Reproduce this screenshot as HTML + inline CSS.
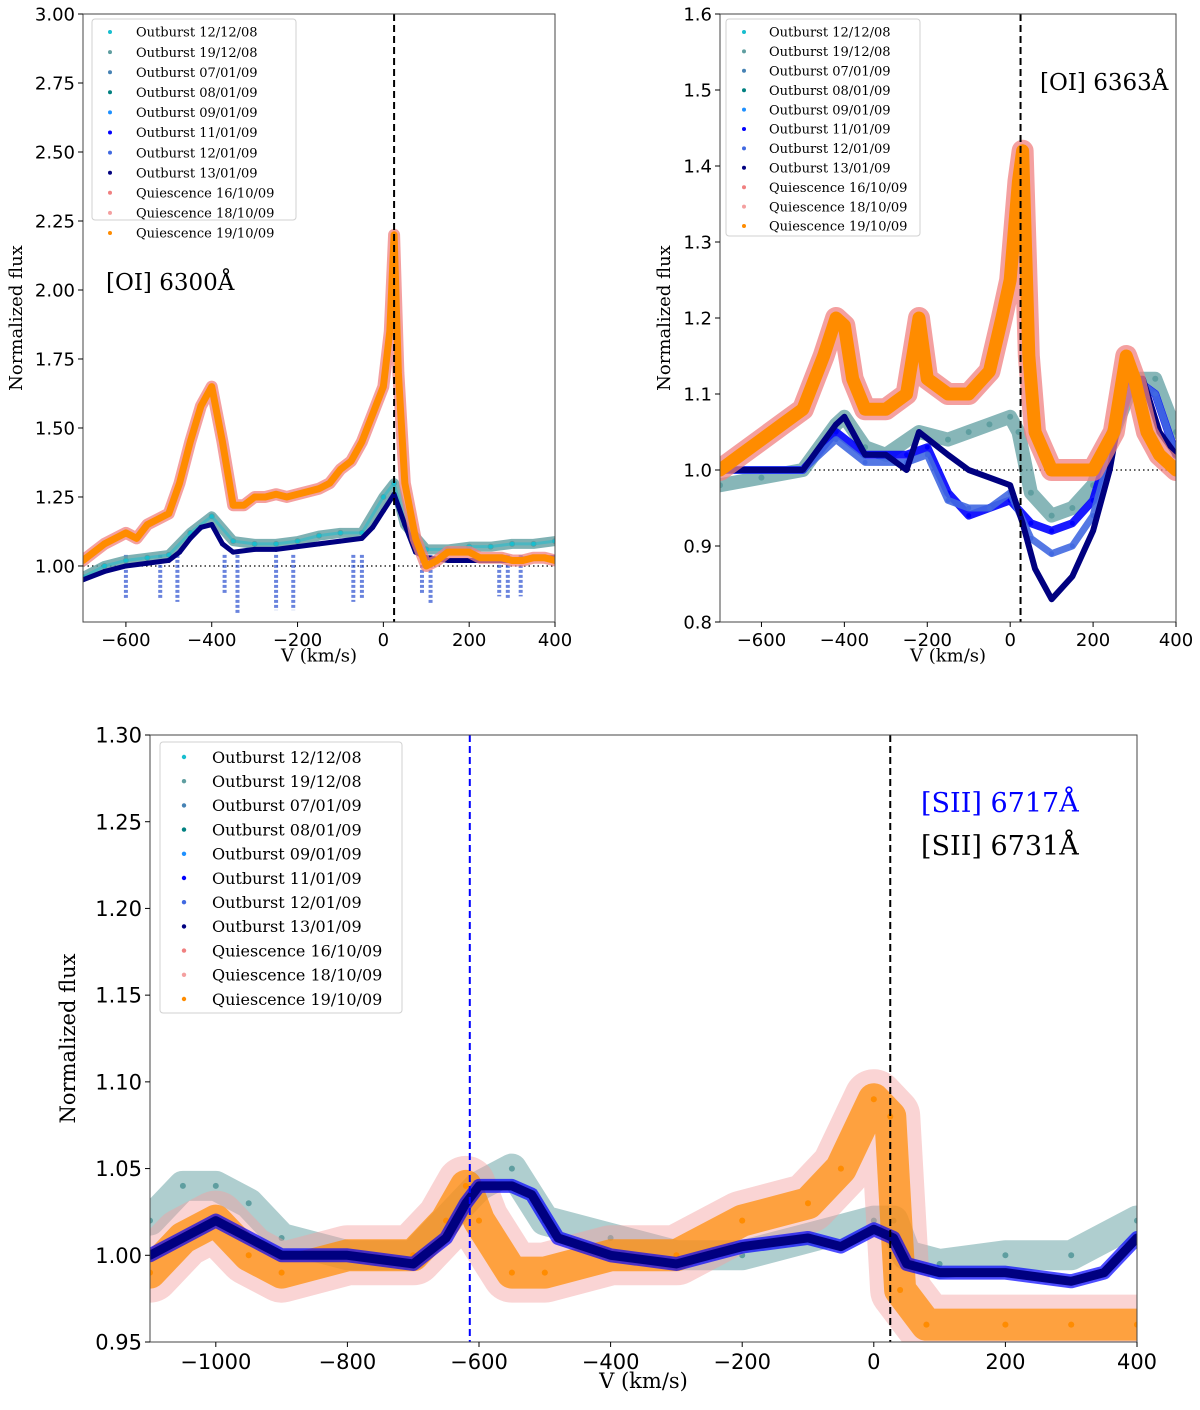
<!DOCTYPE html>
<html><head><meta charset="utf-8">
<style>
html,body{margin:0;padding:0;background:#fff;}
svg{display:block;}
text{font-family:"DejaVu Serif","Liberation Serif",serif;}
.tk{font-family:"DejaVu Sans","Liberation Sans",sans-serif;}
</style></head>
<body>
<svg id="fig" width="1200" height="1410" viewBox="0 0 1200 1410" xmlns="http://www.w3.org/2000/svg"></svg>
<script>
// ---------- Panel 1: [OI] 6300 ----------
const p1QuiesV = [-700,-675,-650,-625,-600,-575,-550,-525,-500,-475,-450,-425,-400,-375,-350,-325,-300,-275,-250,-225,-200,-175,-150,-125,-100,-75,-50,-25,0,15,25,35,50,75,100,125,150,175,200,225,250,275,300,325,350,375,400];
const p1QuiesF = [1.02,1.05,1.08,1.10,1.12,1.10,1.15,1.17,1.19,1.30,1.45,1.58,1.65,1.45,1.22,1.22,1.25,1.25,1.26,1.25,1.26,1.27,1.28,1.30,1.35,1.38,1.45,1.55,1.65,1.85,2.20,1.70,1.30,1.10,1.00,1.02,1.05,1.05,1.05,1.03,1.03,1.03,1.02,1.02,1.03,1.03,1.02];
const p1NavyV = [-700,-650,-600,-550,-500,-475,-450,-425,-400,-375,-350,-300,-250,-200,-150,-100,-50,-25,0,25,50,75,100,150,200,250,300,350,400];
const p1NavyF = [0.95,0.98,1.00,1.01,1.02,1.05,1.10,1.14,1.15,1.08,1.05,1.06,1.06,1.07,1.08,1.09,1.10,1.14,1.20,1.26,1.15,1.05,1.03,1.02,1.02,1.02,1.02,1.03,1.03];
const p1TealV = [-700,-650,-600,-550,-500,-450,-400,-350,-300,-250,-200,-150,-100,-50,0,25,50,100,150,200,250,300,350,400];
const p1TealF = [0.96,1.00,1.02,1.03,1.04,1.12,1.18,1.09,1.08,1.08,1.09,1.11,1.12,1.12,1.25,1.30,1.15,1.06,1.06,1.07,1.07,1.08,1.08,1.09];
const p1DipV = [-600,-520,-480,-370,-340,-250,-210,-70,-50,90,110,270,290,320];
const p1DipF = [0.88,0.88,0.87,0.90,0.83,0.84,0.84,0.87,0.88,0.90,0.86,0.89,0.88,0.89];
const p1Yticks = [1.00,1.25,1.50,1.75,2.00,2.25,2.50,2.75,3.00];
const p1Xticks = [-600,-400,-200,0,200,400];

// ---------- Panel 2: [OI] 6363 ----------
const p2QuiesV = [-700,-650,-600,-550,-500,-450,-420,-400,-380,-350,-300,-250,-220,-200,-150,-100,-50,-20,0,20,30,45,60,100,150,200,250,280,300,330,360,400];
const p2QuiesF = [1.00,1.02,1.04,1.06,1.08,1.15,1.20,1.19,1.12,1.08,1.08,1.10,1.20,1.12,1.10,1.10,1.13,1.20,1.25,1.38,1.42,1.15,1.05,1.00,1.00,1.00,1.05,1.15,1.12,1.05,1.02,1.00];
const p2TealV = [-700,-600,-500,-420,-400,-350,-300,-220,-150,-100,-50,0,20,50,100,150,200,250,300,350,400];
const p2TealF = [0.98,0.99,1.00,1.06,1.07,1.03,1.02,1.05,1.04,1.05,1.06,1.07,1.05,0.97,0.94,0.95,0.98,1.05,1.12,1.12,1.05];
const p2NavyV = [-700,-600,-500,-420,-400,-350,-300,-250,-220,-150,-100,-50,0,30,60,100,150,200,240,280,320,360,400];
const p2NavyF = [1.00,1.00,1.00,1.06,1.07,1.02,1.02,1.00,1.05,1.02,1.00,0.99,0.98,0.93,0.87,0.83,0.86,0.92,1.00,1.12,1.12,1.05,1.02];
const p2BlueV = [-700,-500,-420,-350,-250,-200,-150,-100,-50,0,50,100,150,200,250,300,350,400];
const p2BlueF = [1.00,1.00,1.05,1.02,1.02,1.03,0.97,0.94,0.95,0.96,0.93,0.92,0.93,0.96,1.05,1.12,1.10,1.02];
const p2LBlueV = [-700,-500,-420,-350,-250,-200,-150,-100,-50,0,50,100,150,200,250,300,350,400];
const p2LBlueF = [1.00,1.00,1.04,1.01,1.01,1.02,0.96,0.95,0.95,0.97,0.91,0.89,0.90,0.94,1.04,1.12,1.10,1.02];
const p2Yticks = [0.8,0.9,1.0,1.1,1.2,1.3,1.4,1.5,1.6];
const p2Xticks = [-600,-400,-200,0,200,400];

// ---------- Panel 3: [SII] ----------
const p3QuiesV = [-1100,-1050,-1000,-950,-900,-800,-700,-650,-620,-600,-550,-500,-400,-300,-200,-100,-50,0,25,40,80,200,300,400];
const p3QuiesF = [0.99,1.01,1.02,1.00,0.99,1.00,1.00,1.02,1.04,1.02,0.99,0.99,1.00,1.00,1.02,1.03,1.05,1.09,1.08,0.98,0.96,0.96,0.96,0.96];
const p3NavyV = [-1100,-1050,-1000,-950,-900,-800,-700,-650,-620,-600,-550,-520,-480,-400,-300,-250,-200,-100,-50,0,30,50,100,200,300,350,400];
const p3NavyF = [1.00,1.01,1.02,1.01,1.00,1.00,0.995,1.01,1.03,1.04,1.04,1.035,1.01,1.00,0.995,1.00,1.005,1.01,1.005,1.015,1.01,0.995,0.99,0.99,0.985,0.99,1.01];
const p3TealV = [-1100,-1050,-1000,-950,-900,-800,-700,-600,-550,-500,-400,-300,-200,-100,0,30,50,100,200,300,400];
const p3TealF = [1.02,1.04,1.04,1.03,1.01,1.00,1.00,1.04,1.05,1.02,1.01,1.00,1.00,1.01,1.02,1.02,1.00,0.995,1.00,1.00,1.02];
const p3Yticks = [0.95,1.00,1.05,1.10,1.15,1.20,1.25,1.30];
const p3Xticks = [-1000,-800,-600,-400,-200,0,200,400];

const legendLabels = ["Outburst 12/12/08","Outburst 19/12/08","Outburst 07/01/09","Outburst 08/01/09","Outburst 09/01/09","Outburst 11/01/09","Outburst 12/01/09","Outburst 13/01/09","Quiescence 16/10/09","Quiescence 18/10/09","Quiescence 19/10/09"];
const legendColors = ["#17becf","#5f9ea0","#4682b4","#008080","#1e90ff","#0000ff","#4169e1","#000080","#f08080","#f4a0a0","#ff8c00"];

const NS = "http://www.w3.org/2000/svg";
const svg = document.getElementById("fig");
function el(tag, attrs, parent){
  const e = document.createElementNS(NS, tag);
  for (const k in attrs) e.setAttribute(k, attrs[k]);
  (parent||svg).appendChild(e);
  return e;
}

function panel(cfg){
  const g = el("g", {});
  
  
  const X = v => cfg.x0 + (v - cfg.xmin) / (cfg.xmax - cfg.xmin) * (cfg.x1 - cfg.x0);
  const Y = f => cfg.y1 - (f - cfg.ymin) / (cfg.ymax - cfg.ymin) * (cfg.y1 - cfg.y0);
  const clipId = cfg.name + "-clip";
  const defs = el("defs", {}, g);
  const cp = el("clipPath", {id: clipId}, defs);
  el("rect", {x: cfg.x0, y: cfg.y0, width: cfg.x1 - cfg.x0, height: cfg.y1 - cfg.y0}, cp);
  const plot = el("g", {"clip-path": "url(#" + clipId + ")"}, g);
  
  

  if (cfg.dotted){
    const dl = el("line", {x1: cfg.x0, x2: cfg.x1, y1: Y(1), y2: Y(1), stroke: "#000", "stroke-width": 1.2, "stroke-dasharray": "1.5,3"}, plot);
    
    
  }
  if (cfg.dips){
    cfg.dips.v.forEach((v, i) => {
      const d = el("line", {x1: X(v), x2: X(v), y1: Y(1.04), y2: Y(cfg.dips.f[i]), stroke: "#2b4fd0", "stroke-width": 4, "stroke-dasharray": "3,2", opacity: 0.7}, plot);
      
      
    });
  }
  cfg.series.forEach(s => {
    const sg = el("g", {}, plot);
    
    
    const pts = s.v.map((v, i) => X(v) + "," + Y(s.f[i])).join(" ");
    el("polyline", {points: pts, fill: "none", stroke: s.color, "stroke-width": s.w, "stroke-linejoin": "round", "stroke-linecap": "round", opacity: s.op}, sg);
    s.v.forEach((v, i) => {
      const c = el("circle", {cx: X(v), cy: Y(s.f[i]), r: s.r, fill: s.color}, sg);
      
      
    });
  });
  cfg.vlines.forEach(vl => {
    const l = el("line", {x1: X(vl.v), x2: X(vl.v), y1: cfg.y0, y2: cfg.y1, stroke: vl.color, "stroke-width": 2, "stroke-dasharray": "7,4"}, plot);
    
    
  });
  const fr = el("rect", {x: cfg.x0, y: cfg.y0, width: cfg.x1 - cfg.x0, height: cfg.y1 - cfg.y0, fill: "none", stroke: "#444", "stroke-width": 1}, g);
  
  
  cfg.yticks.forEach(t => {
    el("line", {x1: cfg.x0 - 5, x2: cfg.x0, y1: Y(t), y2: Y(t), stroke: "#000"}, g);
    const tx = el("text", {x: cfg.x0 - 8, y: Y(t) + cfg.fs * 0.36, "text-anchor": "end", "font-size": cfg.fs, class: "tk"}, g);
    tx.textContent = t.toFixed(cfg.ydec);
    
    
  });
  cfg.xticks.forEach(t => {
    el("line", {x1: X(t), x2: X(t), y1: cfg.y1, y2: cfg.y1 + 5, stroke: "#000"}, g);
    const tx = el("text", {x: X(t), y: cfg.y1 + 6 + cfg.fs, "text-anchor": "middle", "font-size": cfg.fs, class: "tk"}, g);
    tx.textContent = (t < 0 ? "\u2212" + (-t) : String(t));
    
    
  });
  const xt = el("text", {x: (cfg.x0 + cfg.x1) / 2, y: cfg.y1 + cfg.fs * 2.2, "text-anchor": "middle", "font-size": cfg.fs}, g);
  xt.textContent = "V (km/s)";
  
  
  const yt = el("text", {x: 0, y: 0, "text-anchor": "middle", "font-size": cfg.fs, transform: "translate(" + cfg.ytx + "," + (cfg.y0 + cfg.y1) / 2 + ") rotate(-90)"}, g);
  yt.textContent = "Normalized flux";
  
  
  const L = cfg.legend;
  const lg = el("g", {}, g);
  
  
  el("rect", {x: L.x, y: L.y, width: L.w, height: L.h, rx: 3, fill: "#fff", stroke: "#ccc", opacity: 0.9}, lg);
  legendLabels.forEach((lab, i) => {
    const ey = L.y + L.first + i * L.step;
    const eg = el("g", {}, lg);
    
    
    el("circle", {cx: L.x + L.mx, cy: ey, r: L.mr, fill: legendColors[i]}, eg);
    const t = el("text", {x: L.x + L.tx, y: ey + L.fs * 0.36, "font-size": L.fs}, eg);
    t.textContent = lab;
  });
  cfg.notes.forEach(n => {
    const t = el("text", {x: n.x, y: n.y, "font-size": n.fs, fill: n.color}, g);
    t.textContent = n.text;
    
    
  });
}

panel({
  name: "panel-oi-6300", x0: 83, x1: 555, y0: 14, y1: 622, xmin: -700, xmax: 400, ymin: 0.797, ymax: 3.0,
  fs: 18, ydec: 2, ytx: 22, dotted: true,
  yticks: p1Yticks, xticks: p1Xticks,
  series: [
    {name: "series-outburst-19-12-08", v: p1TealV, f: p1TealF, color: "#5f9ea0", w: 10, op: 0.8, r: 3},
    {name: "series-outburst-12-12-08", v: p1TealV, f: p1TealF, color: "#17becf", w: 3, op: 0.5, r: 2},
    {name: "series-outburst-13-01-09", v: p1NavyV, f: p1NavyF, color: "#000080", w: 5, op: 1, r: 2.5},
    {name: "series-quiescence-16-10-09", v: p1QuiesV, f: p1QuiesF, color: "#f08080", w: 12, op: 0.75, r: 3},
    {name: "series-quiescence-19-10-09", v: p1QuiesV, f: p1QuiesF, color: "#ff8c00", w: 7, op: 1, r: 3}
  ],
  dips: {v: p1DipV, f: p1DipF},
  vlines: [{v: 25, color: "#000", name: "line-center-6300"}],
  legend: {x: 92, y: 19, w: 204, h: 201, first: 13, step: 20.1, mx: 18, mr: 2, tx: 44, fs: 13},
  notes: [{x: 106, y: 290, fs: 23, color: "#000", text: "[OI] 6300\u00C5", name: "line-label-oi-6300"}]
});

panel({
  name: "panel-oi-6363", x0: 720, x1: 1176, y0: 14, y1: 622, xmin: -700, xmax: 400, ymin: 0.8, ymax: 1.6,
  fs: 18, ydec: 1, ytx: 670, dotted: true,
  yticks: p2Yticks, xticks: p2Xticks,
  series: [
    {name: "series-outburst-19-12-08", v: p2TealV, f: p2TealF, color: "#5f9ea0", w: 14, op: 0.75, r: 3},
    {name: "series-outburst-11-01-09", v: p2BlueV, f: p2BlueF, color: "#0000ff", w: 8, op: 0.9, r: 2.5},
    {name: "series-outburst-12-01-09", v: p2LBlueV, f: p2LBlueF, color: "#4169e1", w: 7, op: 0.9, r: 2.5},
    {name: "series-outburst-13-01-09", v: p2NavyV, f: p2NavyF, color: "#000080", w: 6, op: 1, r: 2.5},
    {name: "series-quiescence-16-10-09", v: p2QuiesV, f: p2QuiesF, color: "#f08080", w: 22, op: 0.75, r: 3},
    {name: "series-quiescence-19-10-09", v: p2QuiesV, f: p2QuiesF, color: "#ff8c00", w: 13, op: 1, r: 3}
  ],
  vlines: [{v: 25, color: "#000", name: "line-center-6363"}],
  legend: {x: 726, y: 19, w: 194, h: 217, first: 13, step: 19.4, mx: 18, mr: 2, tx: 43, fs: 13},
  notes: [{x: 1040, y: 90, fs: 23, color: "#000", text: "[OI] 6363\u00C5", name: "line-label-oi-6363"}]
});

panel({
  name: "panel-sii", x0: 150, x1: 1137, y0: 735, y1: 1342, xmin: -1100, xmax: 400, ymin: 0.95, ymax: 1.30,
  fs: 21, ydec: 2, ytx: 75, dotted: false,
  yticks: p3Yticks, xticks: p3Xticks,
  series: [
    {name: "series-outburst-19-12-08", v: p3TealV, f: p3TealF, color: "#5f9ea0", w: 30, op: 0.5, r: 3},
    {name: "series-quiescence-18-10-09", v: p3QuiesV, f: p3QuiesF, color: "#f4a0a0", w: 60, op: 0.45, r: 3},
    {name: "series-quiescence-19-10-09", v: p3QuiesV, f: p3QuiesF, color: "#ff8c00", w: 32, op: 0.7, r: 3},
    {name: "series-outburst-11-01-09", v: p3NavyV, f: p3NavyF, color: "#0000ff", w: 14, op: 0.7, r: 3},
    {name: "series-outburst-13-01-09", v: p3NavyV, f: p3NavyF, color: "#000080", w: 9, op: 1, r: 3}
  ],
  vlines: [{v: -614, color: "#0000ff", name: "line-center-6717"}, {v: 25, color: "#000", name: "line-center-6731"}],
  legend: {x: 160, y: 742, w: 242, h: 271, first: 15, step: 24.2, mx: 24, mr: 2.2, tx: 52, fs: 16},
  notes: [
    {x: 921, y: 812, fs: 27, color: "#0000ff", text: "[SII] 6717\u00C5", name: "line-label-sii-6717"},
    {x: 921, y: 855, fs: 27, color: "#000", text: "[SII] 6731\u00C5", name: "line-label-sii-6731"}
  ]
});
</script>
</body></html>
